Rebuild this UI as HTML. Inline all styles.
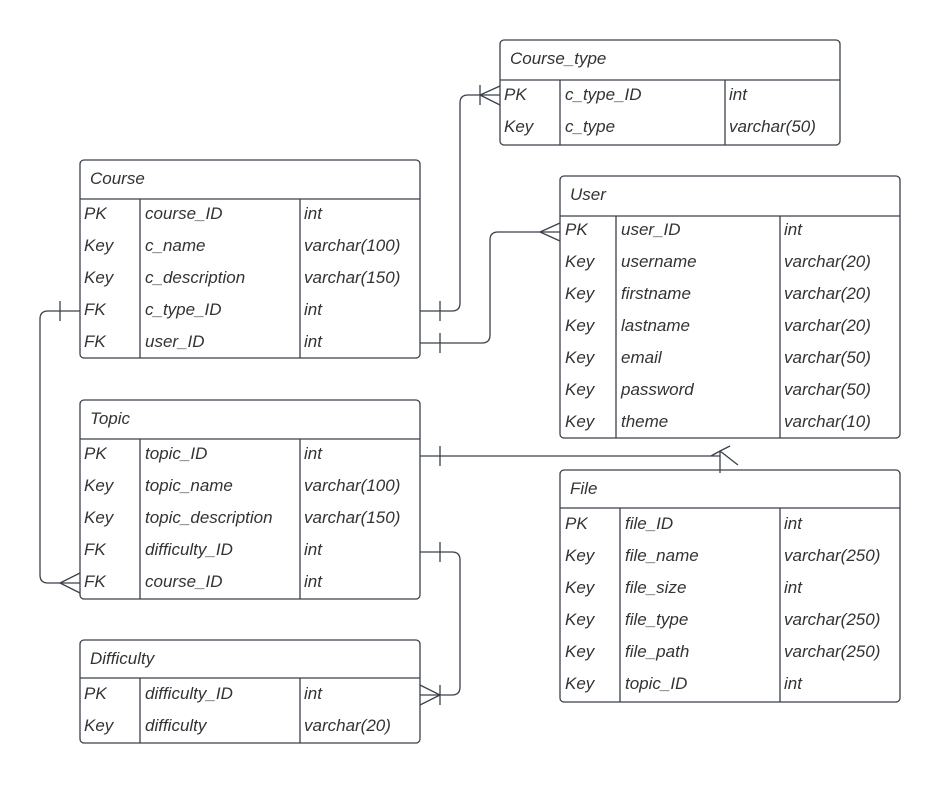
<!DOCTYPE html>
<html><head><meta charset="utf-8"><style>
html,body{margin:0;padding:0;background:#fff;}
svg text{font-family:"Liberation Sans",sans-serif;font-style:italic;font-size:17px;fill:#333;}
</style></head><body>
<svg width="941" height="784" viewBox="0 0 941 784" xmlns="http://www.w3.org/2000/svg">
<g fill="none" stroke="#3a414a" stroke-width="1.3">
<rect x="500" y="40" width="340" height="105" rx="4"/>
<line x1="500" y1="80" x2="840" y2="80"/><line x1="560" y1="80" x2="560" y2="145"/><line x1="725" y1="80" x2="725" y2="145"/>
<rect x="80" y="160" width="340" height="198" rx="4"/>
<line x1="80" y1="199" x2="420" y2="199"/><line x1="140" y1="199" x2="140" y2="358"/><line x1="300" y1="199" x2="300" y2="358"/>
<rect x="560" y="176" width="340" height="262" rx="4"/>
<line x1="560" y1="216" x2="900" y2="216"/><line x1="616" y1="216" x2="616" y2="438"/><line x1="780" y1="216" x2="780" y2="438"/>
<rect x="80" y="400" width="340" height="199" rx="4"/>
<line x1="80" y1="439" x2="420" y2="439"/><line x1="140" y1="439" x2="140" y2="599"/><line x1="300" y1="439" x2="300" y2="599"/>
<rect x="80" y="640" width="340" height="103" rx="4"/>
<line x1="80" y1="678" x2="420" y2="678"/><line x1="140" y1="678" x2="140" y2="743"/><line x1="300" y1="678" x2="300" y2="743"/>
<rect x="560" y="470" width="340" height="232" rx="4"/>
<line x1="560" y1="508" x2="900" y2="508"/><line x1="620" y1="508" x2="620" y2="702"/><line x1="780" y1="508" x2="780" y2="702"/>

<path d="M420 311 H452 Q460 311 460 303 V103 Q460 95 468 95 H500"/>
<line x1="440" y1="301" x2="440" y2="321"/>
<line x1="480" y1="85" x2="480" y2="105"/><path d="M500 86 L480 95 L500 105"/>

<path d="M420 343 H482 Q490 343 490 335 V240 Q490 232 498 232 H560"/>
<line x1="440" y1="333" x2="440" y2="353"/>
<path d="M560 223 L540 232 L560 241"/>

<path d="M80 311 H48 Q40 311 40 319 V575 Q40 583 48 583 H80"/>
<line x1="60" y1="301" x2="60" y2="321"/>
<path d="M80 573 L60 583 L80 593"/>

<path d="M420 456 H720"/>
<line x1="440" y1="446" x2="440" y2="466"/>
<line x1="720" y1="452" x2="720" y2="473"/>
<path d="M711 456 L720 451 L730 446"/><path d="M720 451 L738 465"/>

<path d="M420 552 H452 Q460 552 460 560 V687 Q460 695 452 695 H420"/>
<line x1="440" y1="542" x2="440" y2="562"/>
<path d="M420 685 L440 695 L420 705"/><line x1="440" y1="685" x2="440" y2="705"/>
</g>
<text x="510" y="64">Course_type</text>
<text x="504" y="100">PK</text><text x="565" y="100">c_type_ID</text><text x="729" y="100">int</text>
<text x="504" y="132">Key</text><text x="565" y="132">c_type</text><text x="729" y="132">varchar(50)</text>
<text x="90" y="184">Course</text>
<text x="84" y="219">PK</text><text x="145" y="219">course_ID</text><text x="304" y="219">int</text>
<text x="84" y="251">Key</text><text x="145" y="251">c_name</text><text x="304" y="251">varchar(100)</text>
<text x="84" y="283">Key</text><text x="145" y="283">c_description</text><text x="304" y="283">varchar(150)</text>
<text x="84" y="315">FK</text><text x="145" y="315">c_type_ID</text><text x="304" y="315">int</text>
<text x="84" y="347">FK</text><text x="145" y="347">user_ID</text><text x="304" y="347">int</text>
<text x="570" y="200">User</text>
<text x="565" y="235">PK</text><text x="621" y="235">user_ID</text><text x="784" y="235">int</text>
<text x="565" y="267">Key</text><text x="621" y="267">username</text><text x="784" y="267">varchar(20)</text>
<text x="565" y="299">Key</text><text x="621" y="299">firstname</text><text x="784" y="299">varchar(20)</text>
<text x="565" y="331">Key</text><text x="621" y="331">lastname</text><text x="784" y="331">varchar(20)</text>
<text x="565" y="363">Key</text><text x="621" y="363">email</text><text x="784" y="363">varchar(50)</text>
<text x="565" y="395">Key</text><text x="621" y="395">password</text><text x="784" y="395">varchar(50)</text>
<text x="565" y="427">Key</text><text x="621" y="427">theme</text><text x="784" y="427">varchar(10)</text>
<text x="90" y="424">Topic</text>
<text x="84" y="459">PK</text><text x="145" y="459">topic_ID</text><text x="304" y="459">int</text>
<text x="84" y="491">Key</text><text x="145" y="491">topic_name</text><text x="304" y="491">varchar(100)</text>
<text x="84" y="523">Key</text><text x="145" y="523">topic_description</text><text x="304" y="523">varchar(150)</text>
<text x="84" y="555">FK</text><text x="145" y="555">difficulty_ID</text><text x="304" y="555">int</text>
<text x="84" y="587">FK</text><text x="145" y="587">course_ID</text><text x="304" y="587">int</text>
<text x="90" y="664">Difficulty</text>
<text x="84" y="699">PK</text><text x="145" y="699">difficulty_ID</text><text x="304" y="699">int</text>
<text x="84" y="731">Key</text><text x="145" y="731">difficulty</text><text x="304" y="731">varchar(20)</text>
<text x="570" y="494">File</text>
<text x="565" y="529">PK</text><text x="625" y="529">file_ID</text><text x="784" y="529">int</text>
<text x="565" y="561">Key</text><text x="625" y="561">file_name</text><text x="784" y="561">varchar(250)</text>
<text x="565" y="593">Key</text><text x="625" y="593">file_size</text><text x="784" y="593">int</text>
<text x="565" y="625">Key</text><text x="625" y="625">file_type</text><text x="784" y="625">varchar(250)</text>
<text x="565" y="657">Key</text><text x="625" y="657">file_path</text><text x="784" y="657">varchar(250)</text>
<text x="565" y="689">Key</text><text x="625" y="689">topic_ID</text><text x="784" y="689">int</text>
</svg>
</body></html>
